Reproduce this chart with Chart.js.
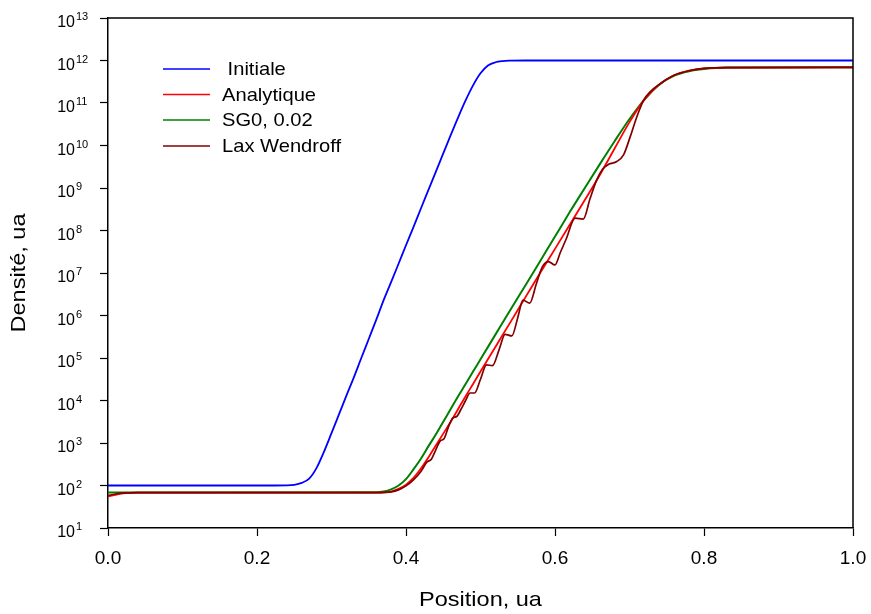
<!DOCTYPE html>
<html>
<head>
<meta charset="utf-8">
<script src="https://cdn.jsdelivr.net/npm/chart.js@4.4.1/dist/chart.umd.min.js"></script>
<style>
  html, body { margin: 0; padding: 0; background: #fff; }
  canvas { display: block; }
</style>
</head>
<body>
<canvas id="chart" width="871" height="614"></canvas>
<script>
(function () {
  'use strict';

  // ── Data ───────────────────────────────────────────────────────
  const initX = [0, 0.2, 0.24, 0.25, 0.26, 0.27, 0.28, 0.29, 0.30, 0.31, 0.32, 0.33, 0.34, 0.35,
    0.36, 0.37, 0.38, 0.39, 0.40, 0.41, 0.42, 0.43, 0.44, 0.45, 0.46, 0.47, 0.48, 0.49, 0.50,
    0.51, 0.52, 0.53, 0.54, 0.56, 1.0];
  const initY = [1e2, 1e2, 1.01e2, 1.04e2, 1.15e2, 1.45e2, 2.6e2, 6.3e2, 1.7e3, 4.7e3, 1.3e4, 3.5e4,
    1.0e5, 2.8e5, 7.9e5, 2.3e6, 6.1e6, 1.65e7, 4.5e7, 1.2e8, 3.3e8, 8.9e8, 2.4e9, 6.5e9,
    1.75e10, 4.6e10, 1.15e11, 2.6e11, 5.0e11, 7.6e11, 9.1e11, 9.7e11, 9.9e11, 1e12, 1e12];

  const anaX = [0, 0.01, 0.02, 0.04, 0.36, 0.38, 0.39, 0.40, 0.41, 0.42, 0.43, 0.44, 0.45, 0.46,
    0.47, 0.48, 0.49, 0.50, 0.52, 0.54, 0.56, 0.58, 0.60, 0.62, 0.64, 0.66, 0.68, 0.70, 0.72,
    0.74, 0.76, 0.78, 0.80, 0.83, 1.0];
  const anaY = [55, 60, 65, 68, 68, 72, 83, 105, 151, 251, 457, 871, 1.66e3, 3.16e3, 6.3e3,
    1.26e4, 2.45e4, 4.8e4, 1.82e5, 6.9e5, 2.63e6, 1.0e7, 3.7e7, 1.38e8, 5.2e8, 2.0e9, 8.5e9,
    3.55e10, 1.2e11, 2.75e11, 4.5e11, 5.75e11, 6.5e11, 6.8e11, 6.9e11];

  const sgX = [0, 0.36, 0.37, 0.38, 0.39, 0.40, 0.41, 0.42, 0.43, 0.44, 0.45, 0.46, 0.47, 0.48,
    0.49, 0.50, 0.52, 0.54, 0.56, 0.58, 0.60, 0.62, 0.64, 0.66, 0.68, 0.70, 0.72, 0.74, 0.76,
    0.78, 0.80, 0.83, 1.0];
  const sgY = [68, 69, 72, 81, 100, 141, 240, 427, 832, 1.58e3, 3.16e3, 6.3e3, 1.26e4, 2.45e4,
    4.8e4, 9.3e4, 3.55e5, 1.35e6, 5.0e6, 1.9e7, 7.2e7, 2.75e8, 1.0e9, 3.6e9, 1.26e10, 4.2e10,
    1.2e11, 2.7e11, 4.4e11, 5.6e11, 6.3e11, 6.8e11, 6.9e11];

  const lwX = [0, 0.01, 0.02, 0.04, 0.36, 0.38, 0.39, 0.40, 0.41, 0.42, 0.428, 0.434, 0.44, 0.446,
    0.451, 0.457, 0.463, 0.468, 0.474, 0.480, 0.486, 0.492, 0.50, 0.508, 0.516, 0.525, 0.533,
    0.542, 0.55, 0.557, 0.566, 0.575, 0.583, 0.591, 0.600, 0.607, 0.615, 0.627, 0.638, 0.647,
    0.656, 0.664, 0.672, 0.683, 0.692, 0.701, 0.710, 0.719, 0.728, 0.74, 0.76, 0.78, 0.80,
    0.83, 1.0];
  const lwY = [58, 63, 66, 68, 68, 71, 79, 98, 135, 214, 355, 417, 692, 1.12e3, 1.26e3, 2.4e3,
    3.9e3, 4.2e3, 6.3e3, 1.0e4, 1.5e4, 1.5e4, 3.16e4, 6.9e4, 6.6e4, 1.58e5, 3.6e5, 3.3e5,
    8.9e5, 2.3e6, 1.95e6, 5.6e6, 1.4e7, 1.86e7, 1.55e7, 3.0e7, 6.3e7, 1.95e8, 1.86e8, 5.6e8,
    1.55e9, 2.8e9, 3.6e9, 4.2e9, 6.0e9, 1.62e10, 4.8e10, 1.17e11, 1.86e11, 2.75e11, 4.5e11,
    5.75e11, 6.5e11, 6.8e11, 6.9e11];

  const seriesLabels = [' Initiale', 'Analytique', 'SG0, 0.02', 'Lax Wendroff'];
  const seriesColors = ['#0000ff', '#ff0000', '#008000', '#800000'];
  const xTicks = [0, 0.2, 0.4, 0.6, 0.8, 1.0];
  const yExponents = [1, 2, 3, 4, 5, 6, 7, 8, 9, 10, 11, 12, 13];

  // ── Helpers ────────────────────────────────────────────────────
  const FONT = '"Liberation Sans", Arial, sans-serif';
  const toPoints = (xs, ys) => xs.map((x, i) => ({ x, y: ys[i] }));

  function lineSet(idx, xs, ys, width, order) {
    return {
      label: seriesLabels[idx],
      data: toPoints(xs, ys),
      borderColor: seriesColors[idx],
      borderWidth: width,
      pointRadius: 0,
      fill: false,
      cubicInterpolationMode: 'monotone',
      order,
    };
  }

  // ── Custom drawing: frame, power-of-ten labels, titles, legend ─
  const decorations = {
    id: 'decorations',
    afterDraw(chart) {
      const { ctx, chartArea: a, scales } = chart;
      ctx.save();

      // top + right frame lines
      ctx.strokeStyle = '#000';
      ctx.lineWidth = 1.5;
      ctx.beginPath();
      ctx.moveTo(a.left, a.top);
      ctx.lineTo(a.right, a.top);
      ctx.lineTo(a.right, a.bottom);
      ctx.stroke();

      // y tick labels as 10^n
      ctx.fillStyle = '#000';
      ctx.textBaseline = 'alphabetic';
      yExponents.forEach(e => {
        const y = scales.y.getPixelForValue(Math.pow(10, e));
        ctx.font = '16px ' + FONT;
        ctx.textAlign = 'right';
        ctx.fillText('10', 75, y + 9);
        ctx.font = '11px ' + FONT;
        ctx.textAlign = 'left';
        ctx.fillText(String(e), 76, y + 2);
      });

      // axis titles (source text is slightly wide, so stretch horizontally)
      ctx.font = '21px ' + FONT;
      ctx.textAlign = 'center';
      ctx.textBaseline = 'middle';
      ctx.save();
      ctx.translate((a.left + a.right) / 2, 600);
      ctx.scale(1.12, 1);
      ctx.fillText('Position, ua', 0, 0);
      ctx.restore();

      ctx.save();
      ctx.translate(19, (a.top + a.bottom) / 2);
      ctx.rotate(-Math.PI / 2);
      ctx.scale(1.12, 1);
      ctx.fillText('Densité, ua', 0, 0);
      ctx.restore();

      // legend
      const legendY = [69, 94.5, 120, 146];
      ctx.font = '19px ' + FONT;
      ctx.textAlign = 'left';
      seriesLabels.forEach((lbl, i) => {
        ctx.strokeStyle = seriesColors[i];
        ctx.lineWidth = 1.6;
        ctx.beginPath();
        ctx.moveTo(163, legendY[i]);
        ctx.lineTo(210, legendY[i]);
        ctx.stroke();
        ctx.save();
        ctx.translate(222, legendY[i] + 1);
        ctx.scale(1.06, 1);
        ctx.fillText(lbl, 0, 0);
        ctx.restore();
      });

      ctx.restore();
    },
  };

  // ── Chart ──────────────────────────────────────────────────────
  const ctx = document.getElementById('chart').getContext('2d');
  new Chart(ctx, {
    type: 'line',
    data: {
      datasets: [
        lineSet(0, initX, initY, 1.8, 3),
        lineSet(2, sgX, sgY, 2, 2),
        lineSet(1, anaX, anaY, 1.8, 1),
        lineSet(3, lwX, lwY, 1.7, 0),
      ],
    },
    options: {
      responsive: false,
      animation: false,
      devicePixelRatio: 1,
      layout: { padding: { top: 18, right: 18, left: 0, bottom: 0 } },
      plugins: { legend: { display: false }, tooltip: { enabled: false } },
      scales: {
        x: {
          type: 'linear',
          min: 0,
          max: 1,
          afterBuildTicks: s => { s.ticks = xTicks.map(v => ({ value: v })); },
          afterFit: s => { s.height = 86; s.paddingLeft = 0; s.paddingRight = 0; },
          ticks: {
            color: '#000',
            font: { family: FONT, size: 19 },
            padding: 11,
            maxRotation: 0,
            callback: v => v.toFixed(1),
          },
          grid: { drawOnChartArea: false, tickLength: 8, tickColor: '#000', tickWidth: 1.2 },
          border: { color: '#000', width: 1.5 },
        },
        y: {
          type: 'logarithmic',
          min: 10,
          max: 1e13,
          afterBuildTicks: s => { s.ticks = yExponents.map(e => ({ value: Math.pow(10, e) })); },
          afterFit: s => { s.width = 108; s.paddingTop = 0; s.paddingBottom = 0; },
          ticks: { callback: () => '', font: { size: 1 } },
          grid: { drawOnChartArea: false, tickLength: 8, tickColor: '#000', tickWidth: 1.2 },
          border: { color: '#000', width: 1.5 },
        },
      },
    },
    plugins: [decorations],
  });
})();
</script>
</body>
</html>
